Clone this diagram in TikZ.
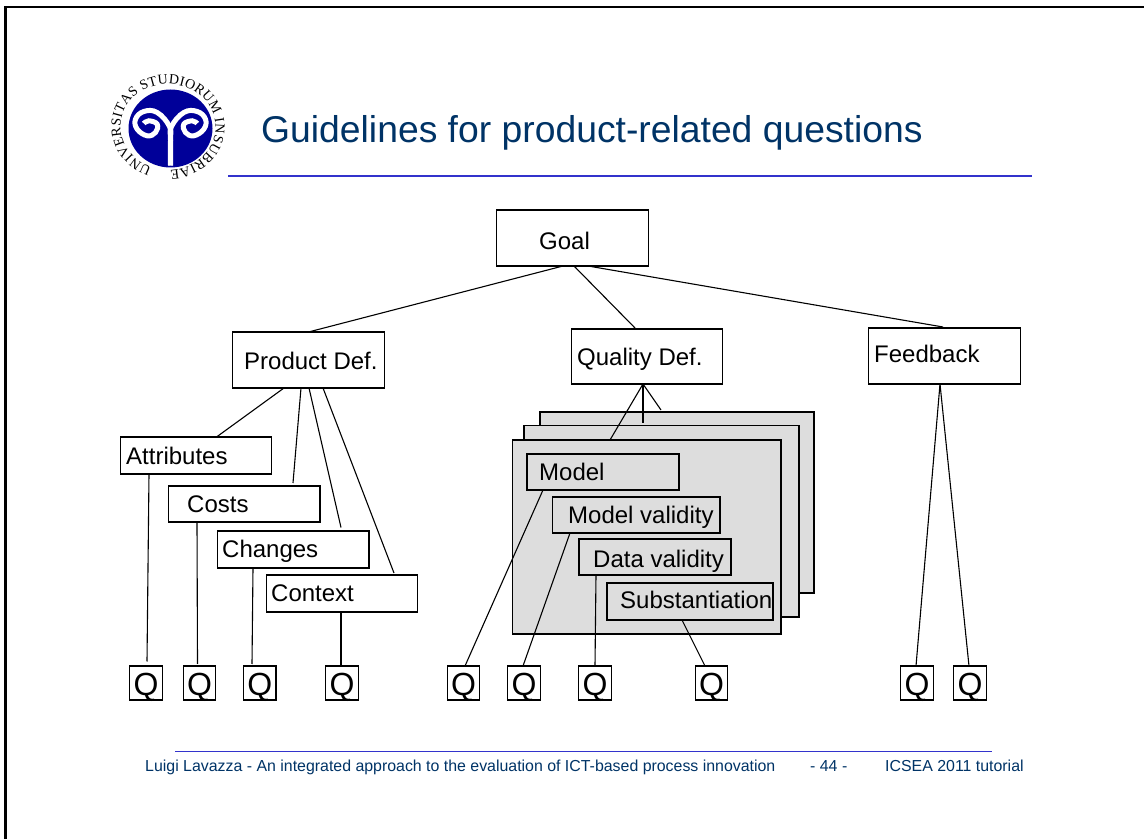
\documentclass[tikz,border=0pt]{standalone}
\usepackage{fontspec}
\setmainfont{Liberation Sans}
\newfontfamily\logofont{Liberation Serif}
\usetikzlibrary{decorations.text,shapes.geometric}
\definecolor{slidenavy}{HTML}{003366}
\definecolor{ruleblue}{HTML}{3333CC}
\definecolor{sealblue}{HTML}{000099}
\definecolor{stackgray}{HTML}{DDDDDD}
\tikzset{
  boxnode/.style={draw,line width=1.1pt,inner sep=0pt,outer sep=0pt},
  whitebox/.style={boxnode,fill=white,minimum width=151.5,minimum height=#1},
  whitebox/.default=56,
  stackpage/.style={boxnode,fill=stackgray},
  qbox/.style={boxnode,fill=white,minimum width=32.5,minimum height=34,text height=25.5pt,text depth=0pt,font=\fontsize{32}{33}\selectfont},
  boxtext/.style={anchor=base west,inner sep=0pt,font=\fontsize{24}{24}\selectfont},
  footertext/.style={anchor=base west,inner sep=0pt,text=slidenavy,font=\fontsize{15.9}{16}\selectfont},
  link/.style={line width=1.1pt}
}
\begin{document}
\begin{tikzpicture}[x=1pt,y=1pt]
  \useasboundingbox (0,0) rectangle (1144,839);
  \draw[line width=2.6pt] (5.5,0) -- (5.5,832) -- (1144,832); %Cadre

  \node[ellipse,fill=sealblue,minimum width=84,minimum height=78,inner sep=0pt] (seal) at (170.5,710.5) {}; %Sceau
  \foreach \s in {1,-1}
    \draw[white,line width=5pt,shift={(seal.center)},xscale=\s] plot[smooth,tension=0.7] coordinates {(0,-37) (0,-12) (-1,2) (-13.3,16) (-26.7,17) (-35,9.3) (-33.3,-0.7) (-23.3,-7.3) (-15,-4) (-13.3,4.3) (-21.7,7.7) (-26.7,5)};
  \path[decorate,decoration={text along path,text align=fit to path,text={|\logofont\fontsize{14}{14}\selectfont|UNIVERSITAS STUDIORUM INSUBRIAE{\ }}}] (168,712) ++(250:47.5 and 43) arc[start angle=250,end angle=-92,x radius=47.5,y radius=43];

  \node[anchor=base west,inner sep=0pt,text=slidenavy,font=\fontsize{37.3}{38}\selectfont] (title) at (261,696) {Guidelines for product-related questions};
  \draw[ruleblue,line width=1.5pt] (228,663) -- (1032,663);

  \node[whitebox] (goal) at (572.5,601) {};
  \node[whitebox] (proddef) at (308.5,479) {};
  \node[whitebox=55] (qualitydef) at (647,482.5) {};
  \node[whitebox] (feedback) at (944.5,483) {};

  \node[whitebox=37] (attributes) at (196,383.5) {};
  \node[whitebox=36] (costs) at (244.25,335) {};
  \node[whitebox=37] (changes) at (293.25,289.5) {};
  \node[whitebox=37] (context) at (342,245.5) {};

  \node[stackpage,minimum width=274,minimum height=181] (backpage) at (677,336.5) {}; %Pile de pages
  \node[stackpage,minimum width=275,minimum height=191.5] (midpage) at (661.5,317.75) {};
  \node[stackpage,minimum width=268.5,minimum height=194] (frontpage) at (646.75,302) {};
  \node[stackpage,minimum width=152,minimum height=36] (model) at (603,367) {};
  \node[stackpage,minimum width=167.5,minimum height=36] (modelvalid) at (636.25,324) {};
  \node[stackpage,minimum width=152,minimum height=36] (datavalid) at (655,282) {};
  \node[stackpage,minimum width=166,minimum height=37] (substant) at (690,237.5) {};

  \node[qbox] (q1) at (146,156) {Q};
  \node[qbox] (q2) at (199.5,156) {Q};
  \node[qbox] (q3) at (259.75,156) {Q};
  \node[qbox] (q4) at (342,156) {Q};
  \node[qbox] (q5) at (463.5,156) {Q};
  \node[qbox] (q6) at (524,156) {Q};
  \node[qbox] (q7) at (595,156) {Q};
  \node[qbox] (q8) at (711.5,156) {Q};
  \node[qbox] (q9) at (917,156) {Q};
  \node[qbox] (q10) at (970,156) {Q};

  \draw[link] ([xshift=-9.5]goal.south) -- (proddef.north);
  \draw[link] ([xshift=1.5]goal.south) -- ([xshift=-12,yshift=1]qualitydef.north);
  \draw[link] ([xshift=15.5]goal.south) -- ([xshift=-1.5,yshift=1]feedback.north);

  \draw[link] ([xshift=-24.5]proddef.south) -- ([xshift=20.5]attributes.north);
  \draw[link] ([xshift=-7.5]proddef.south) -- ([xshift=48.75,yshift=3]costs.north);
  \draw[link] ([xshift=0.5]proddef.south) -- ([xshift=47.75,yshift=3.5]changes.north);
  \draw[link] ([xshift=14.5]proddef.south) -- ([xshift=52,yshift=2]context.north);

  \draw[link] ([xshift=-47]attributes.south) -- ([xshift=1,yshift=4.5]q1.north);
  \draw[link] ([xshift=-47.25]costs.south) -- ([xshift=-2,yshift=2]q2.north);
  \draw[link] ([xshift=-40.25]changes.south) -- ([xshift=-7.75,yshift=2]q3.north);
  \draw[link] ([xshift=-1]context.south) -- ([xshift=-1]q4.north);

  \draw[link] ([xshift=-4]qualitydef.south) -- ([xshift=-36.75]frontpage.north);
  \draw[link,line width=2pt] ([xshift=-4]qualitydef.south) -- ([xshift=-18.5,yshift=2.5]midpage.north);
  \draw[link] ([xshift=-4]qualitydef.south) -- ([xshift=-16,yshift=2]backpage.north);

  \draw[link] ([xshift=-60]model.south) -- ([xshift=1.5]q5.north);
  \draw[link] ([xshift=-66.25]modelvalid.south) -- ([xshift=-1]q6.north);
  \draw[link] ([xshift=-59]datavalid.south) -- (q7.north);
  \draw[link] ([xshift=-8]substant.south) -- ([xshift=-6.5]q8.north);

  \draw[link] ([xshift=-4.5]feedback.south) -- ([xshift=-1]q9.north);
  \draw[link] ([xshift=-4.5]feedback.south) -- ([xshift=-1]q10.north);

  \node[boxtext] (goallabel) at (539,589.5) {Goal};
  \node[boxtext] (proddeflabel) at (244,469.5) {Product Def.};
  \node[boxtext] (qualitylabel) at (577,473) {Quality Def.};
  \node[boxtext] (feedbacklabel) at (874,476) {Feedback};
  \node[boxtext] (attributeslabel) at (126,374.5) {Attributes};
  \node[boxtext] (costslabel) at (187,326) {Costs};
  \node[boxtext] (changeslabel) at (222,281) {Changes};
  \node[boxtext] (contextlabel) at (271,237) {Context};
  \node[boxtext] (modellabel) at (539,358.5) {Model};
  \node[boxtext] (modelvalidlabel) at (568,315) {Model validity};
  \node[boxtext] (datavalidlabel) at (593,271) {Data validity};
  \node[boxtext] (substantlabel) at (620,230) {Substantiation};

  \draw[ruleblue,line width=0.8pt] (175,88) -- (992,88); %Pied de page
  \node[footertext] (footerleft) at (145,68) {Luigi Lavazza - An integrated approach to the evaluation of ICT-based process innovation};
  \node[footertext] (footerpage) at (810,68) {- 44 -};
  \node[footertext] (footerright) at (885,68) {ICSEA 2011 tutorial};
\end{tikzpicture}
\end{document}
